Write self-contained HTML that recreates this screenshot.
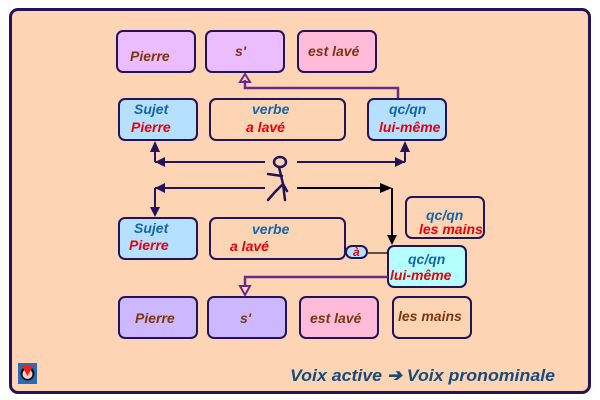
<!DOCTYPE html>
<html><head><meta charset="utf-8"><style>
body{margin:0;width:600px;height:400px;background:#fff;position:relative;overflow:hidden;font-family:"Liberation Sans",sans-serif}
.frame{position:absolute;left:9px;top:8px;width:576px;height:380px;background:#FDD5B5;border:3px solid #23135a;border-radius:9px}
.b{position:absolute;box-sizing:border-box;border:2.5px solid #23135a;border-radius:7px;font-weight:bold;font-style:italic;font-size:14px}
.t{position:absolute;white-space:nowrap}
.bl{color:#1565a8}.rd{color:#e8000d}.br{color:#7a3610}
</style></head><body>
<div class="frame"></div>
<div class="b br" style="left:116px;top:30px;width:80px;height:43px;background:#EBBDFF"><span class="t" style="left:12px;top:16px">Pierre</span></div>
<div class="b br" style="left:205px;top:30px;width:80px;height:43px;background:#EBBDFF"><span class="t" style="left:28px;top:11px">s'</span></div>
<div class="b br" style="left:297px;top:30px;width:80px;height:43px;background:#FFBBD8"><span class="t" style="left:9px;top:11px">est lavé</span></div>

<div class="b" style="left:118px;top:98px;width:80px;height:43px;background:#B5E0FF"><span class="t bl" style="left:14px;top:1px">Sujet</span><span class="t rd" style="left:11px;top:19px">Pierre</span></div>
<div class="b" style="left:209px;top:98px;width:137px;height:43px;background:#FDD5B5"><span class="t bl" style="left:41px;top:1px">verbe</span><span class="t rd" style="left:35px;top:19px">a lavé</span></div>
<div class="b" style="left:367px;top:98px;width:80px;height:43px;background:#B5E0FF"><span class="t bl" style="left:20px;top:1px">qc/qn</span><span class="t rd" style="left:10px;top:19px">lui-même</span></div>

<div class="b" style="left:118px;top:217px;width:80px;height:43px;background:#B5E0FF"><span class="t bl" style="left:14px;top:1px">Sujet</span><span class="t rd" style="left:9px;top:18px">Pierre</span></div>
<div class="b" style="left:209px;top:217px;width:137px;height:43px;background:#FDD5B5"><span class="t bl" style="left:41px;top:2px">verbe</span><span class="t rd" style="left:19px;top:19px">a lavé</span></div>
<div class="b" style="left:405px;top:196px;width:80px;height:43px;background:#FDD5B5"><span class="t bl" style="left:19px;top:9px">qc/qn</span><span class="t rd" style="left:12px;top:23px">les mains</span></div>
<div class="b" style="left:387px;top:245px;width:80px;height:43px;background:#B5FFFF"><span class="t bl" style="left:19px;top:4px">qc/qn</span><span class="t rd" style="left:1px;top:20px">lui-même</span></div>
<div class="b rd" style="left:345px;top:245px;width:23px;height:14px;border-width:2px;background:#B5E0FF;font-size:12px;border-radius:7px"><span class="t" style="left:6px;top:-2px">à</span></div>

<div class="b br" style="left:118px;top:296px;width:80px;height:43px;background:#CDB8FF"><span class="t" style="left:15px;top:12px">Pierre</span></div>
<div class="b br" style="left:207px;top:296px;width:80px;height:43px;background:#CDB8FF"><span class="t" style="left:31px;top:12px">s'</span></div>
<div class="b br" style="left:299px;top:296px;width:80px;height:43px;background:#FFBBD8"><span class="t" style="left:9px;top:12px">est lavé</span></div>
<div class="b br" style="left:392px;top:296px;width:80px;height:43px;background:#FDD5B5"><span class="t" style="left:4px;top:10px">les mains</span></div>

<svg style="position:absolute;left:0;top:0" width="600" height="400">
<g stroke="#23135a" stroke-width="2" fill="none">
<path d="M155 162H265M297 162H405M155 162V150M405 162V150M155 188H265M155 188V208"/>
</g>
<g fill="#23135a">
<path d="M150 152L155 141L160 152Z"/><path d="M400 152L405 141L410 152Z"/>
<path d="M165 157L155 162L165 167Z"/><path d="M395 157L405 162L395 167Z"/>
<path d="M165 183L155 188L165 193Z"/><path d="M150 207L155 217L160 207Z"/>
</g>
<g stroke="#000" stroke-width="2" fill="none"><path d="M297 188H390M392 188V236"/><path d="M368 253H388" stroke-width="1.2"/></g>
<path d="M380 183L392 188L380 193Z" fill="#000"/><path d="M387 235L392 245L397 235Z" fill="#000"/>
<g stroke="#6a2a8a" stroke-width="2.5" fill="none">
<path d="M398 98V88H245V80"/><path d="M240 82L245 74L250 82Z" stroke-width="2"/>
<path d="M388 277H245V287"/><path d="M240 286L245 295L250 286Z" stroke-width="2"/>
</g>
<g stroke="#23135a" stroke-width="2.5" fill="none" stroke-linecap="round">
<ellipse cx="280" cy="162" rx="6" ry="5"/>
<path d="M279 167L283 184L287 191M282 176L268 174M283 184L275 192L268 200M283 184L285 200"/>
</g>
<rect x="18" y="363" width="19" height="21" fill="#2b6bb5"/>
<circle cx="27.5" cy="373.5" r="7" fill="#111"/><circle cx="27.5" cy="374" r="5" fill="#fcc"/>
<path d="M22 366L33 366L27.5 376Z" fill="#e21"/>
<text x="290" y="381" textLength="265" lengthAdjust="spacingAndGlyphs" font-family="Liberation Sans" font-weight="bold" font-style="italic" font-size="17" fill="#1a4a7a">Voix active ➔ Voix pronominale</text>
</svg>
</body></html>
